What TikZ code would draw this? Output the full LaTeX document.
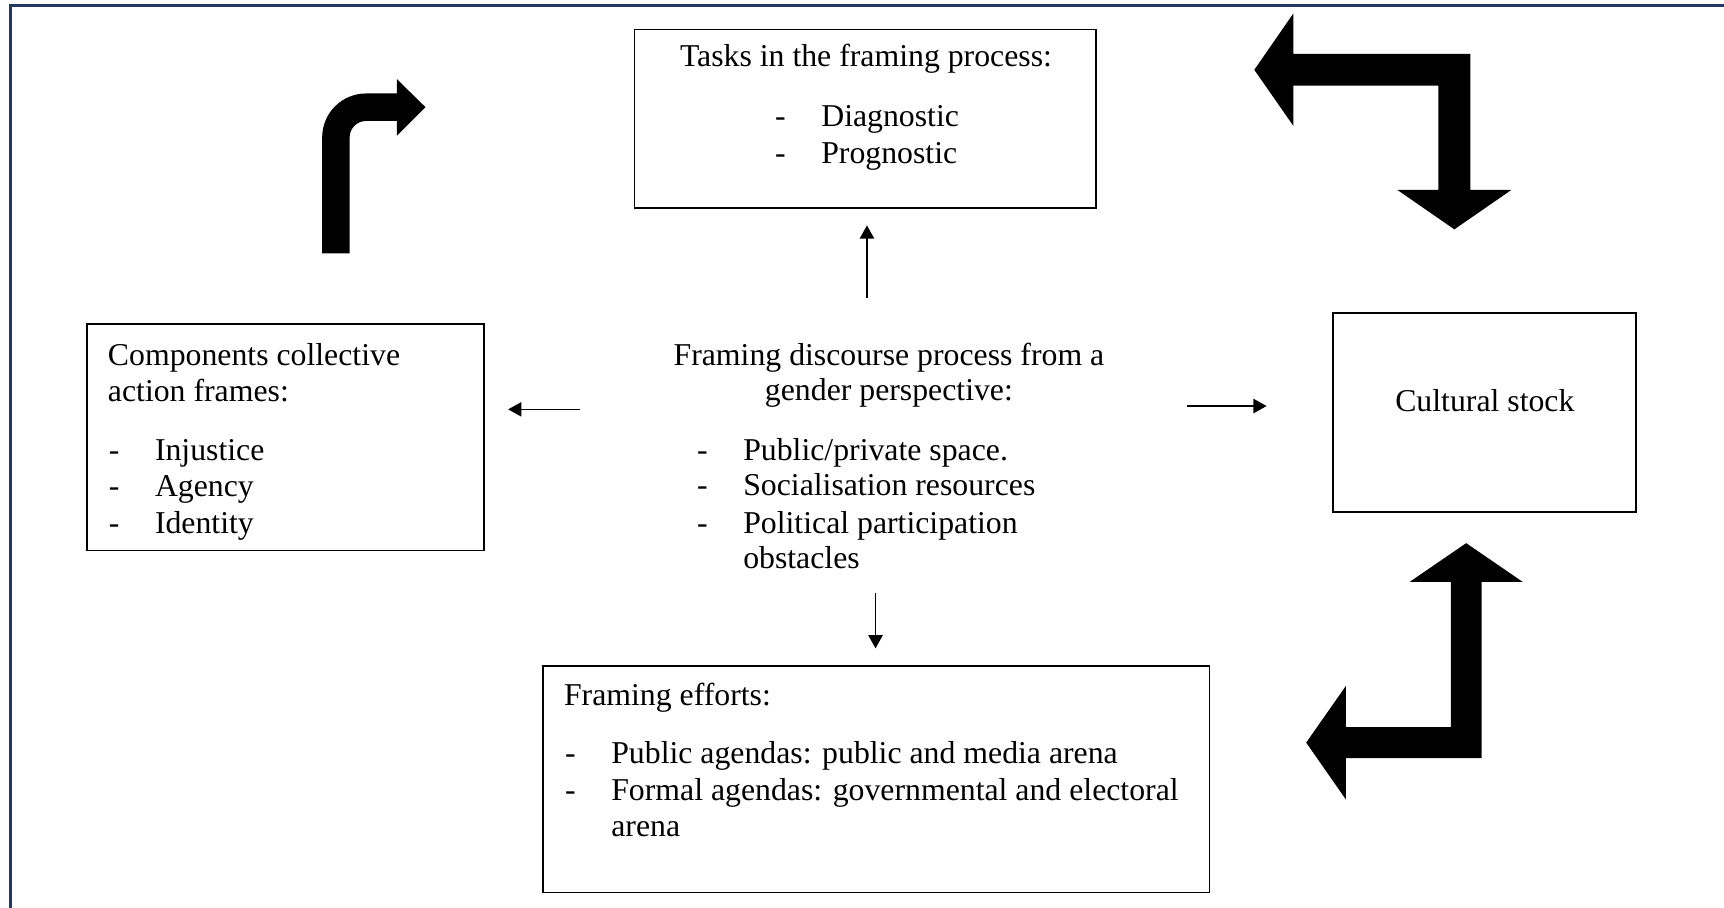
\documentclass[tikz,border=0pt]{standalone}
\usepackage{fontspec}
\setmainfont{Liberation Serif}
\usetikzlibrary{arrows.meta}
\definecolor{framenavy}{HTML}{1F3864}
\newcommand\bodyfont{\fontsize{14.45pt}{16.65pt}\selectfont}
% list entry: dash hangs to the left of the item text
\newcommand\dashitem[1]{\llap{\makebox[21pt][l]{-}}#1}
\begin{document}
\begin{tikzpicture}[x=0.5pt,y=-0.5pt,
  box/.style={draw=black, line width=0.7pt, inner sep=0pt},
  txt/.style={font=\bodyfont, inner sep=0pt, outer sep=0pt},
  lbl/.style={txt, anchor=base west},
  ctr/.style={txt, anchor=base},
  flow/.style={line width=0.6pt, -{Triangle[length=6pt,width=6.5pt]}},
  bigarrow/.style={fill=black, draw=none},
  framerule/.style={draw=framenavy, line width=1.4pt}]

\fill[white] (0,0) rectangle (1568,825);
\useasboundingbox (0,0) rectangle (1568,825);

% outer frame (top and left rules)
\draw[framerule] (9.8,830) -- (9.8,4.7) -- (1575,4.7);

% ---- tasks box
\node[box, minimum width=210pt, minimum height=81pt] (tasks) at (787,108) {};
\node[ctr] (tasks-h) at (787.6,60.6) {Tasks in the framing process:};
\node[lbl] (tasks-1) at (747,115.2) {\dashitem{Diagnostic}};
\node[lbl] (tasks-2) at (747,148.5) {\dashitem{Prognostic}};

% ---- components box
\node[box, minimum width=180.5pt, minimum height=103pt] (comps) at (259.5,397.75) {};
\node[lbl] (comps-h1) at (98.2,332) {Components collective};
\node[lbl] (comps-h2) at (98.2,365.3) {action frames:};
\node[lbl] (comps-1) at (141,418.4) {\dashitem{Injustice}};
\node[lbl] (comps-2) at (141,451.7) {\dashitem{Agency}};
\node[lbl] (comps-3) at (141,485.5) {\dashitem{Identity}};

% ---- central text
\node[ctr] (core-h1) at (808.5,332) {Framing discourse process from a};
\node[ctr] (core-h2) at (808.5,364.5) {gender perspective:};
\node[lbl] (core-1) at (676,418.4) {\dashitem{Public/private space.}};
\node[lbl] (core-2) at (676,451) {\dashitem{Socialisation resources}};
\node[lbl] (core-3) at (676,485) {\dashitem{Political participation}};
\node[lbl] (core-4) at (676,517.5) {obstacles};

% ---- cultural stock box
\node[box, minimum width=137.8pt, minimum height=90.6pt] (cult) at (1350.2,375.1) {};
\node[ctr] (cult-t) at (1350.5,374) {Cultural stock};

% ---- framing efforts box
\node[box, minimum width=303pt, minimum height=103pt] (efforts) at (797,708.65) {};
\node[lbl] (eff-h) at (513,641.2) {Framing efforts:};
\node[lbl] (eff-1) at (556,694.3) {\dashitem{Public agendas: public and media arena}};
\node[lbl] (eff-2) at (556,728) {\dashitem{Formal agendas: governmental and electoral}};
\node[lbl] (eff-3) at (556,761) {arena};

% ---- thin flow arrows out of the central text
\coordinate (up-s) at (788.5,271);   \coordinate (up-e) at (788.5,205);
\coordinate (dn-s) at (796.3,539.6); \coordinate (dn-e) at (796.3,589.7);
\coordinate (lt-s) at (527.3,372.3); \coordinate (lt-e) at (462.2,372.3);
\coordinate (rt-s) at (1079.8,369.3); \coordinate (rt-e) at (1152,369.3);
\draw[flow] (up-s) -- (up-e);
\draw[flow] (dn-s) -- (dn-e);
\draw[flow] (lt-s) -- (lt-e);
\draw[flow] (rt-s) -- (rt-e);

% ---- block arrows
% bent arrow: up, then right
\fill[bigarrow] (293,230.4) -- (318,230.4) -- (318,125)
  .. controls (318,116.7) and (324.7,110) .. (333,110)
  -- (361,110) -- (361,123.4) -- (387,97.5) -- (361,72) -- (361,85) -- (333,85)
  .. controls (310.9,85) and (293,102.9) .. (293,125) -- cycle;
% two-headed corner arrow: left and down
\fill[bigarrow] (1140.8,63.5) -- (1176.4,12.1) -- (1176.4,49.1) -- (1337.2,49.1)
  -- (1337.2,172.8) -- (1374.5,172.8) -- (1322.75,208.6) -- (1271,172.8)
  -- (1308.3,172.8) -- (1308.3,77.9) -- (1176.4,77.9) -- (1176.4,114.6) -- cycle;
% two-headed corner arrow: up and left
\fill[bigarrow] (1333.5,494) -- (1385,529.3) -- (1347.5,529.3) -- (1347.5,689.4)
  -- (1224,689.4) -- (1224,727) -- (1188,675.4) -- (1224,624) -- (1224,661.4)
  -- (1319.5,661.4) -- (1319.5,529.3) -- (1282,529.3) -- cycle;
\end{tikzpicture}
\end{document}
